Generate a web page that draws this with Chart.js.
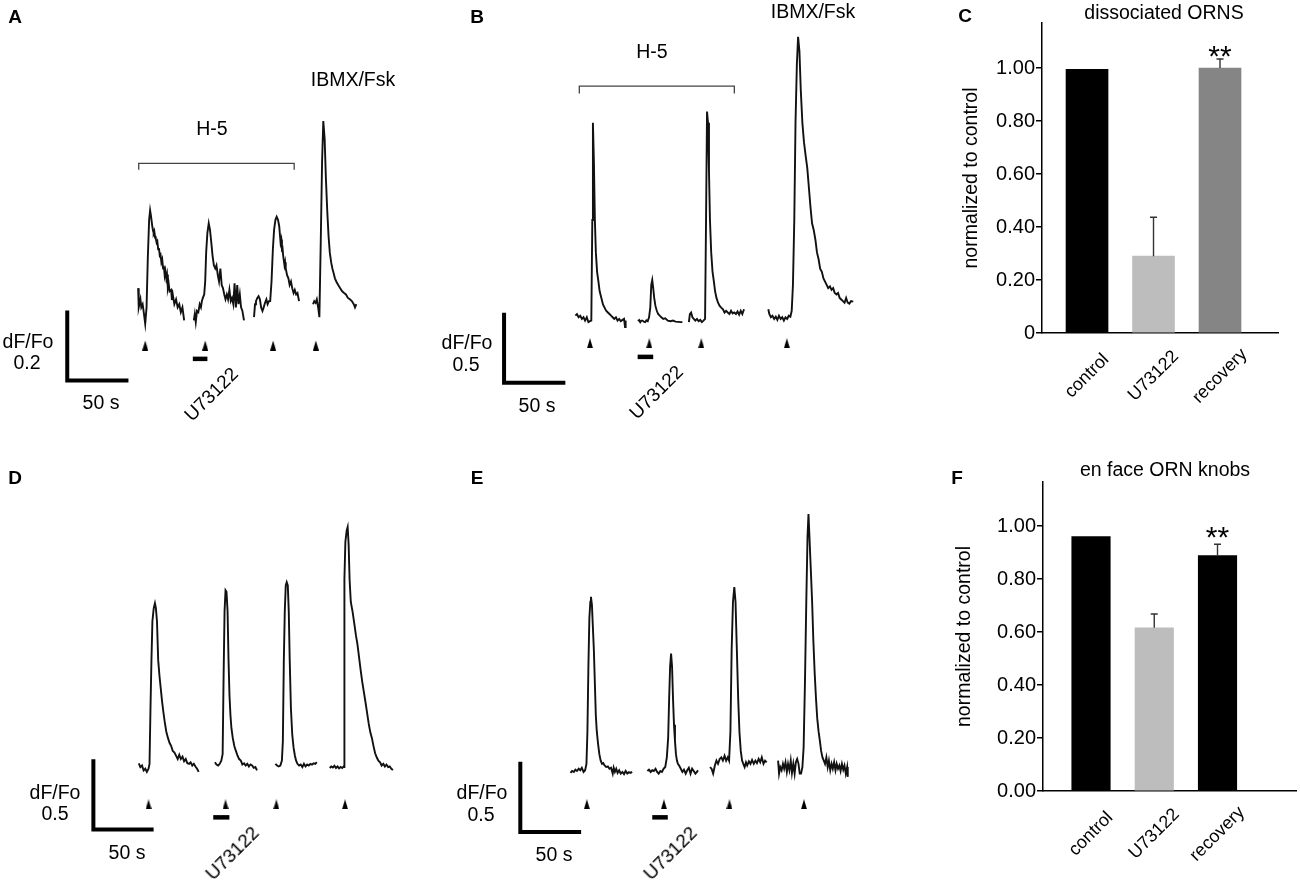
<!DOCTYPE html>
<html lang="en">
<head>
<meta charset="UTF-8">
<title>H-5 / U73122 calcium responses in ORNs</title>
<script src="https://cdn.jsdelivr.net/npm/chart.js"></script>
<style>
  body { margin: 0; background: #fff; }
  #fig { position: relative; width: 1300px; height: 884px; overflow: hidden;
         font-family: "Liberation Sans", Arial, sans-serif; color: #000; }
  #fig canvas { position: absolute; }
  .lbl { position: absolute; white-space: nowrap; line-height: 1; font-size: 19.5px;
         transform: translate(-50%, -50%); }
  .lbl.panel { font-weight: bold; font-size: 19px; }
  .lbl.rot { font-size: 19px; transform: translate(-50%, -50%) rotate(-45deg); }
</style>
</head>
<body>
<div id="fig">
  <canvas id="chartA" width="420" height="440" style="left:0px;top:0px"></canvas>
  <canvas id="chartB" width="440" height="440" style="left:430px;top:0px"></canvas>
  <canvas id="chartC" width="420" height="440" style="left:880px;top:0px"></canvas>
  <canvas id="chartD" width="420" height="444" style="left:0px;top:440px"></canvas>
  <canvas id="chartE" width="440" height="444" style="left:430px;top:440px"></canvas>
  <canvas id="chartF" width="420" height="444" style="left:880px;top:440px"></canvas>

  <div class="lbl panel" style="left:15px;top:16px">A</div>
  <div class="lbl" style="left:212px;top:129px">H-5</div>
  <div class="lbl" style="left:353px;top:80px">IBMX/Fsk</div>
  <div class="lbl" style="left:28px;top:342px">dF/Fo</div>
  <div class="lbl" style="left:27px;top:363px">0.2</div>
  <div class="lbl" style="left:101px;top:403px">50 s</div>
  <div class="lbl rot" style="left:211px;top:394px">U73122</div>

  <div class="lbl panel" style="left:477px;top:16px">B</div>
  <div class="lbl" style="left:652px;top:52px">H-5</div>
  <div class="lbl" style="left:813px;top:12px">IBMX/Fsk</div>
  <div class="lbl" style="left:467px;top:343px">dF/Fo</div>
  <div class="lbl" style="left:466px;top:365px">0.5</div>
  <div class="lbl" style="left:537px;top:406px">50 s</div>
  <div class="lbl rot" style="left:656px;top:392px">U73122</div>

  <div class="lbl panel" style="left:965px;top:15px">C</div>
  <div class="lbl" style="left:1164px;top:13px">dissociated ORNS</div>

  <div class="lbl panel" style="left:15px;top:477px">D</div>
  <div class="lbl" style="left:55px;top:793px">dF/Fo</div>
  <div class="lbl" style="left:55px;top:814px">0.5</div>
  <div class="lbl" style="left:127px;top:853px">50 s</div>
  <div class="lbl rot" style="left:232px;top:853px">U73122</div>

  <div class="lbl panel" style="left:477px;top:477px">E</div>
  <div class="lbl" style="left:482px;top:793px">dF/Fo</div>
  <div class="lbl" style="left:481px;top:815px">0.5</div>
  <div class="lbl" style="left:554px;top:855px">50 s</div>
  <div class="lbl rot" style="left:670px;top:853px">U73122</div>

  <div class="lbl panel" style="left:957px;top:477px">F</div>
  <div class="lbl" style="left:1165px;top:470px">en face ORN knobs</div>
</div>
<script>
// ---- traces: [time (s), dF/Fo] (t = 0 at start of first record) ----
const traceA1 = [[0,0.036],[0.5,-0.019],[1.9,0.004],[2.6,-0.019],[3.7,-0.010],[4.8,-0.038],[5.8,-0.066],[6.9,-0.019],[7.9,0.119],[9.0,0.231],[9.8,0.258],[10.6,0.240],[11.6,0.212],[12.2,0.200],[12.7,0.194],[13.2,0.199],[13.8,0.184],[14.4,0.178],[15.1,0.166],[15.7,0.170],[16.4,0.147],[17.0,0.150],[17.7,0.129],[18.3,0.132],[19.0,0.110],[19.7,0.118],[20.4,0.092],[21.0,0.100],[21.7,0.073],[22.3,0.085],[23.0,0.064],[23.6,0.075],[24.3,0.036],[25.0,0.048],[25.7,0.027],[27.0,0.031],[27.6,0.002],[28.3,0.018],[29.6,-0.010],[31.0,0.004],[32.3,-0.019],[33.6,-0.010],[34.9,-0.033],[36.2,-0.019],[37.6,-0.056]];
const traceA2 = [[45.5,-0.056],[46.3,-0.038],[47.1,-0.061],[48.1,-0.029],[49.2,-0.033],[50.3,-0.010],[51.3,-0.019],[52.1,-0.001],[52.9,0.008],[54.0,0.018],[54.8,0.055],[55.6,0.138],[56.6,0.194],[57.7,0.221],[58.7,0.203],[59.8,0.166],[60.8,0.129],[61.9,0.101],[63.0,0.092],[64.0,0.101],[65.1,0.073],[66.1,0.055],[67.2,0.092],[68.3,0.045],[69.3,0.036],[70.4,0.018],[71.4,0.004],[72.5,0.018],[73.5,0.004],[74.6,0.031],[75.7,-0.001],[76.7,0.008],[77.8,-0.010],[78.8,0.050],[79.9,-0.019],[81.0,0.045],[82.0,-0.010],[83.1,0.018],[84.1,-0.019],[85.2,-0.029],[86.5,-0.056]];
const traceA3 = [[94.7,-0.047],[95.5,-0.010],[96.3,-0.001],[97.4,0.008],[98.4,0.013],[99.5,0.004],[100.5,-0.019],[101.6,-0.029],[102.6,-0.019],[103.7,-0.006],[104.8,0.004],[105.8,-0.010],[106.9,-0.001],[107.9,-0.001],[109.0,0.055],[110.1,0.147],[111.1,0.203],[112.2,0.231],[113.2,0.240],[114.3,0.231],[115.3,0.212],[116.4,0.166],[117.0,0.175],[117.5,0.147],[118.0,0.150],[118.5,0.129],[119.6,0.101],[120.1,0.110],[120.6,0.092],[121.7,0.073],[122.8,0.064],[123.8,0.045],[124.9,0.055],[125.9,0.036],[127.0,0.022],[128.0,0.031],[129.1,0.018],[130.2,0.022],[131.5,-0.001]];
const traceA4 = [[142.9,-0.010],[143.9,-0.001],[145.0,-0.006],[146.0,0.004],[147.1,-0.019],[148.1,-0.047],[149.2,0.166],[150.3,0.397],[151.3,0.513],[152.4,0.462],[153.4,0.351],[154.5,0.258],[155.6,0.184],[156.6,0.138],[157.7,0.110],[158.7,0.092],[159.8,0.078],[160.8,0.064],[161.9,0.055],[163.5,0.045],[165.1,0.036],[166.7,0.027],[168.3,0.022],[169.8,0.018],[171.4,0.008],[173.0,0.004],[174.6,-0.001],[176.2,-0.010],[177.2,-0.019],[178.3,-0.010]];

const traceB1 = [[0,0.023],[1.3,0.035],[2.6,0.012],[4.0,0.023],[5.3,0],[6.6,0.012],[7.9,-0.012],[9.3,0.012],[10.6,-0.023],[11.9,-0.016],[13.0,-0.012],[13.8,0.706],[14.3,1.400],[15.1,1.123],[15.9,0.706],[16.7,0.475],[17.7,0.336],[18.8,0.266],[19.8,0.197],[21.2,0.150],[22.5,0.104],[23.8,0.081],[25.1,0.058],[26.5,0.046],[27.8,0.035],[29.1,0.023],[30.4,0.012],[31.7,0],[33.1,0.012],[34.4,-0.012],[35.7,0],[37.0,-0.016],[38.4,-0.007],[39.7,0],[40.5,-0.058],[41.0,-0.012]];
const traceB2 = [[51.1,-0.016],[52.0,-0.008],[52.9,-0.023],[53.8,-0.012],[54.8,-0.012],[55.8,-0.020],[56.9,-0.023],[58.0,-0.010],[59.0,-0.016],[60.1,0.012],[61.1,0.081],[61.9,0.243],[62.7,0.278],[63.5,0.220],[64.3,0.150],[65.3,0.093],[66.4,0.058],[67.5,0.035],[68.8,0.023],[70.1,0.012],[71.7,0],[73.3,0.005],[75.4,-0.012],[77.5,-0.016],[79.6,-0.012],[81.7,-0.019],[83.9,-0.021],[86.0,-0.023],[87.3,-0.023]];
const traceB3 = [[92.6,-0.023],[93.4,0.035],[94.4,0.046],[95.5,0.012],[96.6,0],[97.9,-0.012],[99.2,0],[100.5,-0.016],[101.9,-0.007],[103.2,-0.023],[104.5,-0.012],[105.8,0],[106.6,0.706],[107.4,1.481],[108.2,1.400],[109.0,1.053],[109.8,0.706],[110.8,0.475],[111.9,0.336],[113.0,0.266],[114.0,0.197],[115.1,0.150],[116.4,0.116],[117.7,0.093],[119.0,0.081],[120.4,0.069],[121.7,0.046],[123.0,0.058],[124.3,0.046],[125.7,0.035],[127.0,0.058],[128.3,0.039],[129.6,0.046],[131.0,0.035],[132.3,0.053],[133.6,0.030],[134.9,0.058],[136.2,0.035],[137.6,0.069]];
const traceB4 = [[157.4,0.069],[158.2,0.035],[159.5,0.012],[160.8,0.023],[162.2,0],[163.5,0.016],[164.8,-0.007],[166.1,0.023],[167.5,0],[168.8,0.012],[170.1,-0.012],[171.4,0.012],[172.8,0],[174.1,0.023],[175.4,0.016],[176.5,0.058],[177.5,0.243],[178.6,0.706],[179.6,1.400],[180.7,1.817],[181.7,2.014],[182.8,1.910],[183.9,1.632],[185.2,1.400],[186.5,1.262],[187.8,1.169],[189.2,1.076],[190.5,0.938],[191.8,0.799],[193.1,0.683],[194.4,0.637],[195.8,0.567],[197.1,0.475],[198.4,0.428],[199.7,0.359],[201.1,0.336],[202.4,0.289],[203.7,0.266],[205.0,0.243],[206.3,0.220],[207.7,0.232],[209.0,0.208],[210.3,0.220],[211.6,0.185],[213.0,0.174],[214.3,0.185],[215.6,0.150],[216.9,0.139],[218.3,0.127],[219.6,0.116],[220.9,0.150],[222.2,0.116],[223.5,0.109],[224.9,0.127],[226.7,0.123]];

const traceD1 = [[0,0.039],[1.3,0.012],[2.7,0.023],[4.0,-0.012],[5.4,0],[6.7,-0.023],[8.1,0],[8.9,0.035],[9.7,0.428],[10.5,0.775],[11.3,1.053],[12.4,1.146],[13.4,1.181],[14.2,1.146],[15.1,1.053],[16.1,0.775],[17.2,0.660],[18.3,0.567],[19.4,0.475],[20.4,0.405],[21.5,0.336],[22.8,0.266],[24.2,0.220],[25.5,0.185],[26.9,0.162],[28.2,0.127],[29.6,0.116],[30.9,0.093],[32.3,0.069],[33.6,0.100],[34.9,0.069],[36.3,0.086],[37.6,0.053],[39.0,0.069],[40.3,0.039],[41.7,0.035],[43.0,0.046],[44.4,0.023],[45.7,0.035],[47.0,0.016],[48.4,0],[49.7,-0.023]];
const traceD2 = [[63.2,0.046],[64.5,0.030],[65.9,0.023],[67.2,0.035],[68.5,0.058],[69.6,0.104],[70.4,0.660],[71.2,1.123],[72.0,1.273],[72.8,1.262],[73.7,1.123],[74.5,0.775],[75.3,0.521],[76.1,0.382],[76.9,0.289],[78.0,0.220],[79.3,0.162],[80.6,0.127],[82.0,0.093],[83.3,0.069],[84.7,0.058],[86.0,0.030],[87.4,0.039],[88.7,0.023],[90.1,0.035],[91.4,0.016],[92.7,0.030],[94.1,0.023],[95.4,0.007],[96.8,0.012],[98.1,-0.012]];
const traceD3 = [[113.4,0.035],[114.8,0.023],[116.1,0.016],[117.5,0.023],[118.8,0.058],[119.6,0.197],[120.4,0.775],[121.2,1.123],[122.0,1.308],[122.8,1.331],[123.7,1.308],[124.5,1.123],[125.3,0.775],[126.3,0.428],[127.4,0.243],[128.5,0.150],[129.6,0.093],[130.6,0.058],[131.7,0.035],[133.1,0.023],[134.4,0.030],[135.8,0.012],[137.1,0.035],[138.4,0.016],[139.8,0.030],[141.1,0.023],[142.5,0.035],[143.8,0.030],[145.2,0.039],[146.5,0.035],[147.8,0.046]];
const traceD4 = [[158.5,0.005],[159.8,0.016],[161.1,0.009],[162.4,0.021],[163.7,0.005],[165.0,0.016],[166.3,0.002],[167.6,0.012],[168.9,0.005],[170.0,0.016],[170.6,0.012],[170.7,1.354],[171.5,1.620],[172.6,1.700],[173.4,1.725],[174.2,1.600],[175.0,1.350],[176.0,1.190],[177.5,1.120],[179.0,1.030],[180.3,0.950],[181.5,0.890],[182.8,0.800],[184.1,0.710],[185.5,0.620],[186.8,0.550],[188.1,0.480],[189.5,0.400],[190.9,0.320],[192.2,0.260],[193.5,0.220],[194.9,0.160],[196.2,0.110],[197.6,0.080],[198.9,0.058],[200.3,0.046],[201.6,0.023],[203.0,0.035],[204.3,0.016],[205.6,0.030],[207.0,0.012],[208.3,0.016],[209.7,0],[211.0,-0.009]];

const traceE1 = [[0,-0.007],[1.3,0.007],[2.7,0],[4.0,0.016],[5.3,0.007],[6.7,0.023],[8.0,0.012],[9.3,0.030],[10.7,0],[12.0,0.012],[13.1,0.058],[13.9,0.289],[14.7,0.752],[15.5,1.100],[16.3,1.215],[16.8,1.250],[17.6,1.192],[18.4,1.030],[19.2,0.868],[20.0,0.637],[20.8,0.405],[21.6,0.289],[22.7,0.197],[23.7,0.127],[24.8,0.081],[25.9,0.058],[26.9,0.063],[28.0,0.046],[29.3,0.035],[30.7,0.039],[32.0,0.023],[33.3,0.030],[34.7,-0.012],[35.5,0.030],[36.5,0],[37.6,0.023],[38.7,-0.007],[40.0,0.012],[41.3,-0.012],[42.7,0],[44.0,-0.016],[45.3,0.007],[46.7,-0.012],[48.0,-0.002],[49.3,-0.007],[50.7,0]];
const traceE2 = [[63.2,0.007],[64.5,0.016],[65.9,0],[67.2,0.012],[68.5,0.007],[69.9,0.023],[71.2,0],[72.5,-0.012],[73.9,0.007],[75.2,0],[76.5,0.023],[77.9,0.035],[79.2,0.104],[80.3,0.243],[81.1,0.521],[81.9,0.752],[82.7,0.845],[83.5,0.752],[84.3,0.521],[85.1,0.336],[85.9,0.220],[86.7,0.127],[87.5,0.081],[88.3,0.058],[89.3,0.046],[90.7,0.023],[92.0,0],[93.3,0.016],[94.7,-0.012],[96.0,0.012],[97.3,0.030],[98.7,-0.012],[100.0,0.023],[101.3,0.007],[102.7,-0.012],[104.0,0],[104.8,0.012]];
const traceE3 = [[114.7,0.035],[116.0,0.023],[117.3,-0.012],[118.7,0.046],[120.0,0.081],[121.3,0.058],[122.7,0.093],[124.0,0.104],[125.3,0.081],[126.7,0.116],[128.0,0.081],[129.3,0.104],[130.4,0.081],[131.5,0.289],[132.5,0.868],[133.6,1.215],[134.7,1.319],[135.7,1.215],[136.8,0.868],[137.9,0.521],[138.9,0.289],[140.0,0.150],[141.1,0.081],[142.1,0.058],[143.2,0.035],[144.3,0.069],[145.3,0.046],[146.7,0.076],[148.0,0.058],[149.3,0.086],[150.7,0.058],[152.0,0.081],[153.3,0.063],[154.7,0.093],[156.0,0.069],[157.3,0.104],[158.7,0.058],[160.0,0.081],[161.3,0.069]];
const traceE4 = [[170.7,0.081],[171.5,-0.012],[172.5,0.035],[173.6,0.012],[174.7,0.058],[175.7,0.023],[176.8,0.069],[177.9,0],[178.9,0.058],[180.0,0.012],[181.1,0.081],[182.1,-0.007],[183.2,0.058],[184.3,-0.012],[185.3,0.069],[186.4,0.093],[187.5,0.058],[188.5,-0.012],[189.6,-0.012],[190.7,0.035],[191.7,0.174],[192.8,0.637],[193.9,1.215],[194.9,1.678],[195.7,1.840],[196.5,1.678],[197.6,1.447],[198.7,1.215],[199.7,0.938],[200.8,0.706],[201.9,0.521],[202.9,0.382],[204.0,0.289],[205.1,0.220],[206.1,0.150],[207.2,0.104],[208.3,0.081],[209.3,0.058],[210.4,0.104],[211.5,0.035],[212.5,0.081],[213.6,0.012],[214.7,0.058],[215.7,0.023],[216.8,0.069],[217.9,0.012],[218.9,0.058],[220.0,0.023],[221.1,0.046],[222.1,0.007],[223.2,0.058],[224.3,0.016],[225.3,0.046],[226.4,-0.012],[227.5,0.035],[228.0,-0.035]];

// stimulus times (arrowheads), U73122 application window, H-5 window (s)
const stimA = [5.8, 54.8, 110.3, 145.2];
const stimB = [11.9, 60.3, 102.7, 172.5];
const stimD = [8.1, 72.0, 114.2, 171.2];
const stimE = [13.4, 76.8, 130.7, 192.0];
const u73122A = [44.7, 56.6];
const u73122B = [50.8, 63.5];
const u73122D = [61.8, 75.2];
const u73122E = [67.2, 80.0];
const h5A = [0.5, 127.5];
const h5B = [3.2, 129.7];
// scale bars: [seconds, dF/Fo]
const scaleA = [50, 0.2];
const scaleB = [50, 0.5];
const scaleD = [50, 0.5];
const scaleE = [50, 0.5];

// bar charts: normalized response
const groups = ['control', 'U73122', 'recovery'];
const dissocMean = [0.995, 0.29, 1.0];
const dissocErr = [0, 0.147, 0.034];
const knobMean = [0.96, 0.616, 0.888];
const knobErr = [0, 0.052, 0.043];
const sigMarks = ['', '', '**'];
const yTickVals = [0, 0.2, 0.4, 0.6, 0.8, 1.0];
const yTickTextC = ['0', '0.20', '0.40', '0.60', '0.80', '1.00'];
const yTickTextF = ['0.00', '0.20', '0.40', '0.60', '0.80', '1.00'];

Chart.defaults.font.family = '"Liberation Sans", Arial, sans-serif';
Chart.defaults.color = '#000';

// narrow arrowhead used as point style
const arrowHead = document.createElement('canvas');
arrowHead.width = 6;
arrowHead.height = 10;
const ag = arrowHead.getContext('2d');
ag.fillStyle = '#000';
ag.beginPath();
ag.moveTo(3, 0);
ag.lineTo(6, 10);
ag.lineTo(0, 10);
ag.closePath();
ag.fill();

// canvas placement + pixel scale of each trace panel
const geoA = { left: 0, top: 0, w: 420, h: 440, x0: 136, y0: 303, kx: 1.26, ky: 360,
  arrowY: -0.128, drugY: -0.166, bracketY: 0.392, tick: 0.018, barT: -57.9, barY: -0.228 };
const geoB = { left: 430, top: 0, w: 440, h: 440, x0: 573.3, y0: 321.7, kx: 1.26, ky: 144,
  arrowY: -0.174, drugY: -0.271, bracketY: 1.662, tick: 0.053, barT: -58.2, barY: -0.456 };
const geoD = { left: 0, top: 440, w: 420, h: 444, x0: 136.7, y0: 771.7, kx: 1.24, ky: 144,
  arrowY: -0.254, drugY: -0.347, barT: -37.7, barY: -0.433 };
const geoE = { left: 430, top: 440, w: 440, h: 444, x0: 568.3, y0: 775, kx: 1.25, ky: 144,
  arrowY: -0.231, drugY: -0.324, barT: -41.3, barY: -0.428 };

function tracePanel(id, geo, segments, stim, drug, bracket, scaleBar) {
  const datasets = segments.map(seg => ({ data: seg, borderColor: '#111', borderWidth: 1.9 }));
  datasets.push({ data: stim.map(t => [t, geo.arrowY]), showLine: false, pointRadius: 5,
    pointStyle: arrowHead, borderColor: '#000' });
  datasets.push({ data: drug.map(t => [t, geo.drugY]), borderColor: '#000', borderWidth: 4.5 });
  if (bracket) {
    datasets.push({
      data: [[bracket[0], geo.bracketY - geo.tick], [bracket[0], geo.bracketY],
             [bracket[1], geo.bracketY], [bracket[1], geo.bracketY - geo.tick]],
      borderColor: '#444', borderWidth: 1.3
    });
  }
  datasets.push({
    data: [[geo.barT, geo.barY + scaleBar[1]], [geo.barT, geo.barY], [geo.barT + scaleBar[0], geo.barY]],
    borderColor: '#000', borderWidth: 4, borderJoinStyle: 'miter'
  });

  new Chart(document.getElementById(id), {
    type: 'line',
    data: { datasets: datasets },
    options: {
      responsive: false,
      animation: false,
      events: [],
      layout: { padding: 0 },
      elements: { point: { radius: 0 }, line: { tension: 0, borderCapStyle: 'butt' } },
      plugins: { legend: { display: false }, tooltip: { enabled: false } },
      scales: {
        x: { type: 'linear', display: false,
             min: (geo.left - geo.x0) / geo.kx, max: (geo.left + geo.w - geo.x0) / geo.kx },
        y: { type: 'linear', display: false,
             min: (geo.y0 - geo.top - geo.h) / geo.ky, max: (geo.y0 - geo.top) / geo.ky }
      }
    }
  });
}

// error bars and significance marks on top of the bars
const errBars = {
  id: 'errBars',
  afterDatasetsDraw(chart, args, opts) {
    const { ctx } = chart;
    const y = chart.scales.y;
    const meta = chart.getDatasetMeta(0);
    const values = chart.data.datasets[0].data;
    ctx.save();
    ctx.strokeStyle = '#333';
    ctx.lineWidth = 1.4;
    meta.data.forEach((bar, i) => {
      const top = y.getPixelForValue(values[i].y + opts.err[i]);
      if (opts.err[i] > 0) {
        ctx.beginPath();
        ctx.moveTo(bar.x, bar.y);
        ctx.lineTo(bar.x, top);
        ctx.moveTo(bar.x - 3.5, top);
        ctx.lineTo(bar.x + 3.5, top);
        ctx.stroke();
      }
      if (opts.marks[i]) {
        ctx.fillStyle = '#000';
        ctx.font = '30px "Liberation Sans", Arial, sans-serif';
        ctx.textAlign = 'center';
        ctx.textBaseline = 'alphabetic';
        ctx.fillText(opts.marks[i], bar.x, top + opts.markDy);
      }
    });
    ctx.restore();
  }
};

// slanted category names under the bars
const groupLabels = {
  id: 'groupLabels',
  afterDraw(chart, args, opts) {
    const { ctx } = chart;
    const x = chart.scales.x;
    ctx.save();
    ctx.font = '18px "Liberation Sans", Arial, sans-serif';
    ctx.fillStyle = '#000';
    ctx.textAlign = 'center';
    ctx.textBaseline = 'middle';
    opts.labels.forEach((txt, i) => {
      ctx.save();
      ctx.translate(x.getPixelForValue(i + 1), x.top + opts.dy);
      ctx.rotate(-Math.PI / 4);
      ctx.fillText(txt, 0, 0);
      ctx.restore();
    });
    ctx.restore();
  }
};

function barPanel(id, geo, mean, err, colors, tickText) {
  new Chart(document.getElementById(id), {
    type: 'bar',
    data: {
      datasets: [{
        data: mean.map((v, i) => ({ x: i + 1, y: v })),
        backgroundColor: colors,
        borderWidth: 0,
        barThickness: geo.barW
      }]
    },
    options: {
      responsive: false,
      animation: false,
      events: [],
      layout: { padding: { left: geo.padL, top: geo.padT, right: geo.padR, bottom: 0 } },
      plugins: {
        legend: { display: false },
        tooltip: { enabled: false },
        errBars: { err: err, marks: sigMarks, markDy: geo.markDy },
        groupLabels: { labels: groups, dy: 43 }
      },
      scales: {
        x: {
          type: 'linear', offset: false, min: geo.xMin, max: geo.xMax,
          grid: { display: false },
          ticks: { display: false },
          border: { color: '#000', width: 1.5 },
          afterFit: s => { s.height = geo.xH; }
        },
        y: {
          min: 0, max: geo.yMax,
          afterBuildTicks: s => { s.ticks = yTickVals.map(v => ({ value: v })); },
          ticks: { callback: (v, i) => tickText[i], font: { size: 20 }, color: '#000', padding: 1 },
          grid: { drawOnChartArea: false, tickLength: 6, color: '#000', lineWidth: 1.5 },
          border: { color: '#000', width: 1.5 },
          title: { display: true, text: 'normalized to control', font: { size: 19.5 },
                   color: '#000', padding: { top: 4, bottom: 4 } },
          afterFit: s => { s.width = geo.yW; }
        }
      }
    },
    plugins: [errBars, groupLabels]
  });
}

tracePanel('chartA', geoA, [traceA1, traceA2, traceA3, traceA4], stimA, u73122A, h5A, scaleA);
tracePanel('chartB', geoB, [traceB1, traceB2, traceB3, traceB4], stimB, u73122B, h5B, scaleB);
tracePanel('chartD', geoD, [traceD1, traceD2, traceD3, traceD4], stimD, u73122D, null, scaleD);
tracePanel('chartE', geoE, [traceE1, traceE2, traceE3, traceE4], stimE, u73122E, null, scaleE);

barPanel('chartC',
  { padL: 76.3, padT: 23, padR: 22, xH: 107, yW: 85.7, xMin: 0.323, xMax: 3.872, yMax: 1.17, barW: 42, markDy: 7 },
  dissocMean, dissocErr, ['#000000', '#bdbdbd', '#858585'], yTickTextC);
barPanel('chartF',
  { padL: 68.6, padT: 42, padR: 4, xH: 93, yW: 94.4, xMin: 0.241, xMax: 4.241, yMax: 1.166, barW: 38.5, markDy: 3 },
  knobMean, knobErr, ['#000000', '#bdbdbd', '#000000'], yTickTextF);
</script>
</body>
</html>
